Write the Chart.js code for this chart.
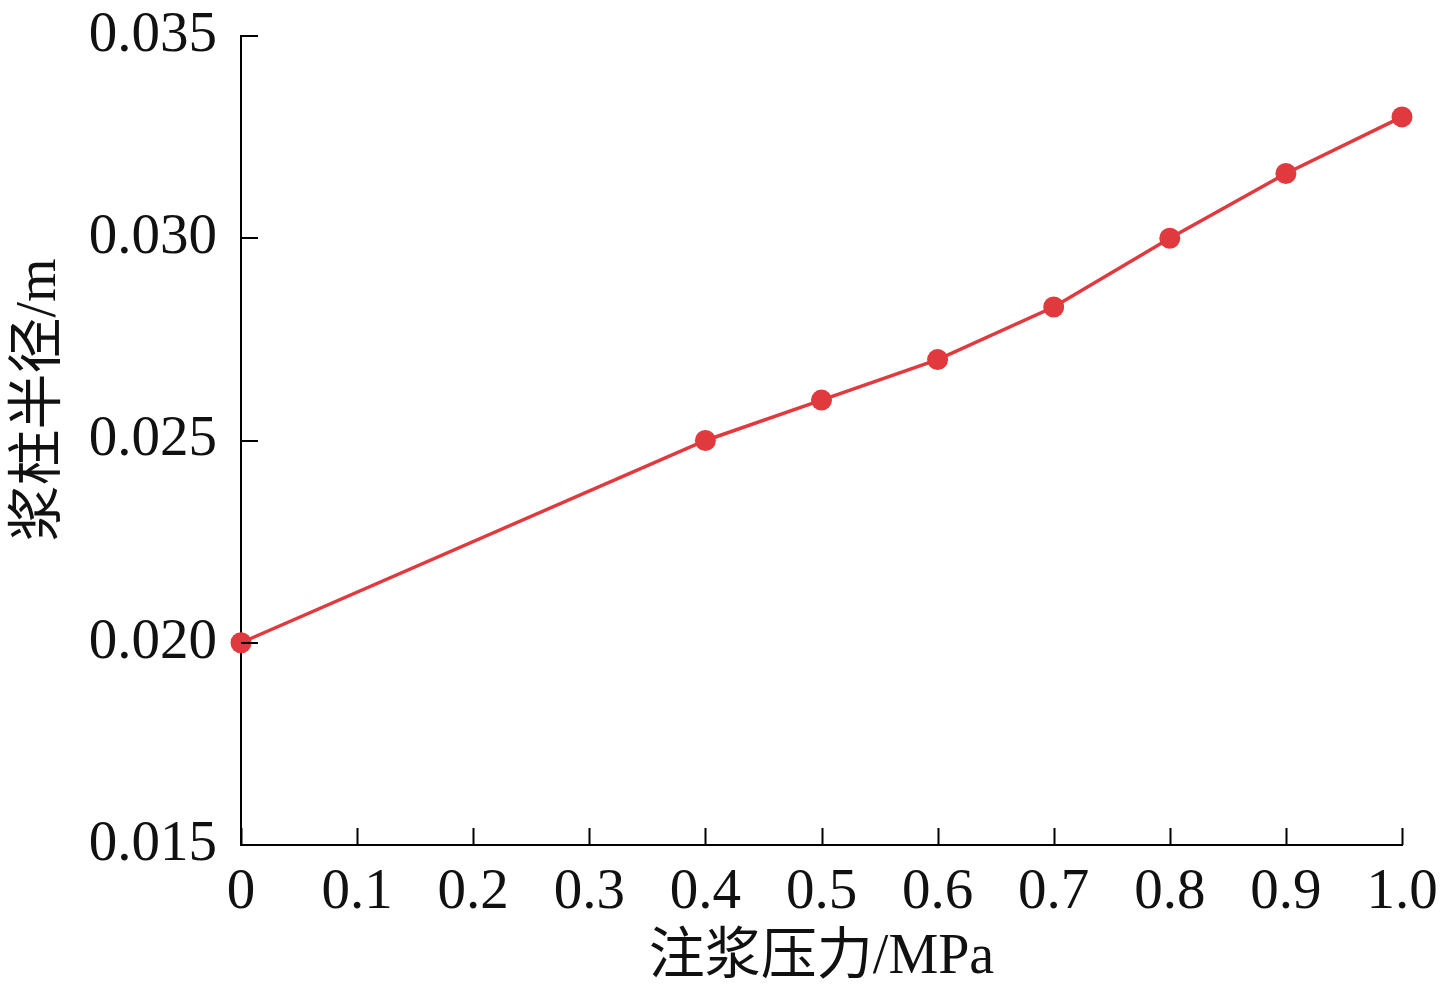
<!DOCTYPE html>
<html>
<head>
<meta charset="utf-8">
<script src="https://cdn.jsdelivr.net/npm/chart.js@4.4.1/dist/chart.umd.min.js"></script>
<style>
  html, body { margin: 0; padding: 0; background: #fff; }
  canvas { display: block; }
</style>
</head>
<body>
<canvas id="c" width="1445" height="995"></canvas>
<script>
// data
const pressure = [0, 0.4, 0.5, 0.6, 0.7, 0.8, 0.9, 1.0];
const radius = [0.020, 0.025, 0.026, 0.027, 0.0283, 0.030, 0.0316, 0.033];
const xTitle = "注浆压力/MPa";
const yTitle = "浆柱半径/m";

const FONT = "'Liberation Serif', 'Times New Roman', 'Noto Sans CJK SC', serif";
const RED = "#e0393e";

// ticks pointing into the plot, plus the axis titles
const innerTicks = {
  id: "innerTicks",
  afterDraw(chart) {
    const { ctx, chartArea, scales } = chart;
    const len = 17;
    ctx.save();
    ctx.strokeStyle = "#000";
    ctx.lineWidth = 2;
    ctx.beginPath();
    scales.x.ticks.forEach(t => {
      const px = Math.round(scales.x.getPixelForValue(t.value)) + 0.5;
      ctx.moveTo(px, chartArea.bottom);
      ctx.lineTo(px, chartArea.bottom - len);
    });
    scales.y.ticks.forEach(t => {
      const py = Math.round(scales.y.getPixelForValue(t.value));
      ctx.moveTo(chartArea.left, py);
      ctx.lineTo(chartArea.left + len, py);
    });
    ctx.stroke();

    ctx.fillStyle = "#111";
    ctx.font = "56px " + FONT;
    ctx.textAlign = "center";
    ctx.textBaseline = "middle";
    ctx.fillText(xTitle, (chartArea.left + chartArea.right) / 2, 958);
    ctx.translate(40, 400);
    ctx.rotate(-Math.PI / 2);
    ctx.fillText(yTitle, 0, 0);
    ctx.restore();
  }
};

new Chart(document.getElementById("c"), {
  type: "line",
  data: {
    datasets: [{
      data: pressure.map((p, i) => ({ x: p, y: radius[i] })),
      borderColor: RED,
      backgroundColor: RED,
      borderWidth: 3.5,
      pointRadius: 10.5,
      pointHoverRadius: 10.5,
      pointBorderWidth: 0,
      tension: 0,
      clip: false
    }]
  },
  options: {
    responsive: false,
    animation: false,
    layout: { padding: { top: 36, right: 43, left: 0, bottom: 0 } },
    plugins: { legend: { display: false }, tooltip: { enabled: false } },
    scales: {
      x: {
        type: "linear",
        min: 0,
        max: 1,
        afterFit: s => { s.height = 150; s.paddingLeft = 0; s.paddingRight = 0; },
        grid: { display: false },
        border: { display: true, color: "#000", width: 2 },
        ticks: {
          stepSize: 0.1,
          padding: 6,
          color: "#111",
          font: { family: FONT, size: 57 },
          maxRotation: 0,
          callback: v => (v === 0 ? "0" : v.toFixed(1))
        }
      },
      y: {
        min: 0.015,
        max: 0.035,
        afterFit: s => { s.width = 241; s.paddingTop = 0; s.paddingBottom = 0; },
        grid: { display: false },
        border: { display: true, color: "#000", width: 2 },
        ticks: {
          stepSize: 0.005,
          padding: 16,
          color: "#111",
          font: { family: FONT, size: 57 },
          callback: v => v.toFixed(3)
        }
      }
    }
  },
  plugins: [innerTicks]
});
</script>
</body>
</html>
